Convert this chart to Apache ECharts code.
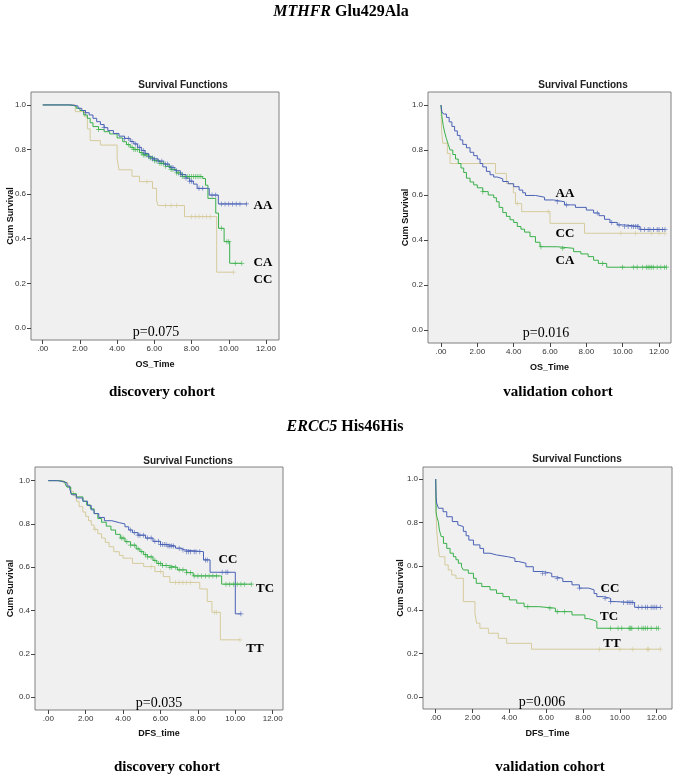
<!DOCTYPE html>
<html>
<head>
<meta charset="utf-8">
<script src="https://cdn.jsdelivr.net/npm/echarts@6/dist/echarts.min.js"></script>
<style>html,body{margin:0;padding:0;background:#fff;}#c{width:683px;height:778px;}</style>
</head>
<body>
<div id="c"></div>
<script>
// ---------- tick labels ----------
const xTicks = [0, 2, 4, 6, 8, 10, 12];
const yTicks = [0, 0.2, 0.4, 0.6, 0.8, 1.0];

// ---------- Panel A: MTHFR Glu429Ala, discovery cohort (OS) ----------
const a_AA = [[0,1],[1.6,0.995],[1.9,0.985],[2.1,0.975],[2.3,0.965],[2.5,0.955],[2.7,0.94],[2.9,0.925],[3.1,0.912],[3.3,0.898],[3.5,0.885],[3.8,0.872],[4.1,0.86],[4.4,0.85],[4.7,0.836],[4.9,0.825],[5.1,0.81],[5.3,0.796],[5.5,0.782],[5.7,0.768],[5.9,0.758],[6.2,0.748],[6.5,0.735],[6.8,0.72],[7.1,0.705],[7.4,0.688],[7.7,0.672],[7.9,0.658],[8.1,0.645],[8.3,0.626],[8.95,0.596],[9.44,0.556],[10.97,0.556]];
const a_AA_cens = [2.3,3.3,4.4,4.6,4.8,5.0,5.2,5.4,5.5,5.7,5.9,6.0,6.2,6.4,6.6,6.7,6.9,7.0,7.2,7.4,7.5,7.7,7.9,8.0,8.4,8.6,9.1,9.3,9.6,9.8,10.0,10.2,10.4,10.6,10.95];
const a_CA = [[0,1],[1.4,0.995],[1.8,0.985],[2.0,0.975],[2.2,0.955],[2.4,0.94],[2.55,0.92],[2.7,0.903],[3.0,0.89],[3.3,0.88],[3.6,0.87],[4.0,0.852],[4.3,0.835],[4.5,0.822],[4.7,0.81],[4.9,0.8],[5.2,0.786],[5.4,0.776],[5.7,0.762],[6.0,0.75],[6.3,0.738],[6.6,0.725],[6.9,0.71],[7.2,0.695],[7.5,0.679],[8.6,0.67],[8.75,0.64],[8.88,0.581],[9.3,0.515],[9.45,0.447],[9.75,0.387],[10.05,0.29],[10.7,0.29]];
const a_CA_cens = [3.0,4.6,4.8,4.9,5.0,5.1,5.3,5.4,5.5,5.6,5.8,5.9,6.0,6.1,6.3,6.4,6.5,6.6,6.8,6.9,7.0,7.2,7.3,7.5,7.6,7.8,7.9,8.0,8.1,8.2,8.3,8.4,8.5,9.6,9.9,10.0,10.35,10.7];
const a_CC = [[0,1],[1.75,0.97],[2.25,0.947],[2.4,0.893],[2.55,0.84],[3.1,0.82],[4.0,0.76],[4.1,0.709],[4.8,0.68],[5.2,0.656],[5.9,0.626],[6.12,0.57],[6.2,0.549],[7.62,0.499],[9.35,0.25],[10.25,0.25]];
const a_CC_cens = [5.6,6.6,6.9,7.2,8.0,8.2,8.4,8.6,8.8,9.0,10.25];

// ---------- Panel B: MTHFR Glu429Ala, validation cohort (OS) ----------
const b_AA = [[0,1],[0.05,0.97],[0.15,0.96],[0.3,0.945],[0.45,0.925],[0.6,0.905],[0.75,0.885],[0.9,0.865],[1.05,0.845],[1.2,0.825],[1.4,0.81],[1.6,0.79],[1.8,0.775],[2.0,0.76],[2.15,0.74],[2.3,0.725],[2.5,0.705],[2.7,0.69],[2.9,0.68],[3.1,0.672],[3.4,0.66],[3.7,0.65],[4.0,0.637],[4.3,0.622],[4.5,0.61],[4.65,0.598],[5.2,0.59],[5.7,0.578],[6.2,0.57],[6.8,0.556],[7.4,0.545],[8.0,0.533],[8.4,0.52],[8.7,0.508],[9.0,0.492],[9.3,0.478],[9.7,0.467],[10.1,0.46],[10.95,0.447],[12.33,0.447]];
const b_AA_cens = [6.4,6.9,8.6,9.4,9.8,10.1,10.3,10.5,10.6,10.7,10.8,10.85,11.0,11.2,11.4,11.5,11.7,11.9,12.0,12.2,12.33];
const b_CA = [[0,1],[0.05,0.95],[0.12,0.91],[0.2,0.88],[0.3,0.85],[0.4,0.825],[0.5,0.8],[0.65,0.78],[0.8,0.76],[0.95,0.74],[1.1,0.72],[1.25,0.7],[1.4,0.675],[1.6,0.658],[1.8,0.645],[2.0,0.632],[2.3,0.615],[2.6,0.6],[2.9,0.588],[3.05,0.57],[3.2,0.545],[3.4,0.522],[3.6,0.505],[3.8,0.49],[4.0,0.478],[4.2,0.46],[4.4,0.448],[4.6,0.435],[4.9,0.415],[5.2,0.39],[5.45,0.37],[6.4,0.363],[7.3,0.348],[7.7,0.338],[8.1,0.326],[8.4,0.31],[8.66,0.296],[9.12,0.279],[12.42,0.279]];
const b_CA_cens = [2.3,5.5,6.7,8.9,10.0,10.6,10.8,11.1,11.3,11.4,11.5,11.6,11.7,11.9,12.1,12.3,12.42];
const b_CC = [[0,1],[0.03,0.89],[0.1,0.83],[0.35,0.785],[0.5,0.74],[3.0,0.696],[3.6,0.651],[3.98,0.61],[4.1,0.562],[4.44,0.526],[6.0,0.474],[7.9,0.43],[12.33,0.43]];
const b_CC_cens = [4.2,5.9,9.9,10.7,11.6,12.0,12.33];

// ---------- Panel C: ERCC5 His46His, discovery cohort (DFS) ----------
const c_CC = [[0,1],[0.5,0.995],[0.8,0.99],[1.0,0.975],[1.15,0.96],[1.25,0.935],[1.5,0.92],[1.85,0.905],[2.1,0.885],[2.3,0.865],[2.45,0.848],[2.7,0.83],[3.0,0.815],[3.4,0.806],[3.8,0.8],[4.1,0.787],[4.3,0.772],[4.5,0.76],[4.8,0.748],[5.2,0.735],[5.6,0.72],[6.0,0.705],[6.4,0.698],[6.8,0.688],[7.1,0.68],[7.3,0.672],[8.3,0.634],[8.65,0.577],[10.0,0.385],[10.3,0.385]];
const c_CC_cens = [4.4,4.6,4.8,4.9,5.1,5.3,5.5,5.7,5.9,6.0,6.1,6.2,6.3,6.4,6.5,6.6,6.7,7.0,7.2,7.4,7.5,7.6,7.8,7.9,8.1,8.4,8.5,9.3,9.5,9.6,10.3];
const c_TC = [[0,1],[0.6,0.995],[0.9,0.985],[1.0,0.97],[1.2,0.94],[1.5,0.925],[1.85,0.905],[2.05,0.888],[2.25,0.87],[2.45,0.848],[2.65,0.825],[2.85,0.808],[3.1,0.79],[3.35,0.772],[3.6,0.752],[3.85,0.735],[4.1,0.718],[4.4,0.702],[4.7,0.685],[4.9,0.672],[5.1,0.658],[5.3,0.648],[5.6,0.632],[5.8,0.618],[6.1,0.608],[6.4,0.6],[6.9,0.588],[7.4,0.575],[7.75,0.56],[9.27,0.522],[10.86,0.522]];
const c_TC_cens = [3.9,4.0,4.2,4.4,4.6,4.8,5.0,5.2,5.3,5.5,5.7,5.9,6.0,6.1,6.3,6.5,6.6,6.8,7.0,7.2,7.4,7.6,7.8,8.0,8.2,8.4,8.6,8.8,9.0,9.5,9.7,9.9,10.1,10.3,10.5,10.86];
const c_TT = [[0,1],[0.8,0.99],[1.05,0.97],[1.2,0.95],[1.35,0.93],[1.5,0.905],[1.65,0.88],[1.85,0.855],[2.0,0.835],[2.15,0.815],[2.3,0.795],[2.45,0.775],[2.65,0.755],[2.85,0.735],[3.05,0.715],[3.25,0.695],[3.5,0.672],[3.8,0.655],[4.0,0.642],[4.5,0.618],[5.1,0.603],[5.7,0.58],[6.15,0.557],[6.5,0.53],[8.1,0.5],[8.5,0.442],[8.75,0.392],[9.2,0.265],[10.25,0.265]];
const c_TT_cens = [2.5,5.5,6.0,6.8,7.0,7.2,7.4,7.6,8.9,9.0,10.25];

// ---------- Panel D: ERCC5 His46His, validation cohort (DFS) ----------
const d_CC = [[0,1],[0.02,0.92],[0.05,0.89],[0.15,0.866],[0.4,0.85],[0.6,0.827],[0.9,0.805],[1.2,0.79],[1.3,0.782],[1.5,0.76],[1.65,0.74],[1.8,0.72],[2.05,0.698],[2.4,0.682],[2.6,0.66],[2.95,0.652],[3.3,0.644],[3.9,0.637],[4.3,0.622],[4.5,0.614],[4.9,0.598],[5.3,0.576],[5.8,0.568],[6.3,0.552],[6.5,0.545],[6.9,0.53],[7.4,0.515],[7.8,0.5],[8.3,0.492],[8.6,0.475],[8.75,0.461],[9.1,0.453],[9.5,0.438],[9.8,0.434],[10.8,0.412],[12.2,0.412]];
const d_CC_cens = [5.8,5.95,6.6,7.8,9.2,9.5,10.2,10.4,10.5,10.6,10.7,11.0,11.2,11.4,11.5,11.7,11.8,11.9,12.0,12.2];
const d_TC = [[0,1],[0.02,0.85],[0.06,0.827],[0.14,0.805],[0.2,0.766],[0.3,0.736],[0.42,0.705],[0.6,0.682],[0.78,0.66],[0.96,0.644],[1.1,0.63],[1.23,0.614],[1.4,0.598],[1.5,0.583],[1.77,0.568],[2.05,0.545],[2.2,0.522],[2.5,0.507],[2.95,0.492],[3.3,0.476],[3.65,0.461],[4.0,0.446],[4.4,0.431],[4.8,0.415],[5.6,0.408],[6.5,0.392],[7.4,0.377],[8.1,0.36],[8.3,0.354],[8.55,0.347],[8.75,0.316],[12.1,0.316]];
const d_TC_cens = [5.0,6.2,6.6,7.0,9.5,9.9,10.1,10.5,10.55,10.6,10.65,11.0,11.2,11.3,11.4,11.5,11.7,12.0,12.1];
const d_TT = [[0,1],[0.02,0.85],[0.05,0.77],[0.12,0.7],[0.2,0.644],[0.5,0.606],[0.68,0.583],[0.87,0.56],[1.1,0.545],[1.5,0.438],[2.13,0.385],[2.22,0.339],[2.4,0.316],[2.86,0.293],[3.4,0.27],[3.85,0.247],[5.2,0.22],[12.2,0.22]];
const d_TT_cens = [8.9,10.0,10.7,11.5,11.55,12.2];

// ---------- texts ----------
const headings = ['MTHFR', 'Glu429Ala', 'ERCC5', 'His46His'];
const panelTitle = 'Survival Functions';
const xNames = ['OS_Time', 'OS_Time', 'DFS_time', 'DFS_Time'];
const yName = 'Cum Survival';
const pValues = ['p=0.075', 'p=0.016', 'p=0.035', 'p=0.006'];
const cohorts = ['discovery cohort', 'validation cohort', 'discovery cohort', 'validation cohort'];
const curveNames = [['AA','CA','CC'], ['AA','CA','CC'], ['CC','TC','TT'], ['CC','TC','TT']];

// ---------- layout (styles / positions) ----------
const COLORS = ['#4a62b6', '#38b04a', '#d5cb9c'];
const panels = [
  { grid: {left: 31, top: 92, width: 248, height: 248}, x: [-0.63, 12.70], y: [-0.054, 1.058],
    curves: [[a_AA, a_AA_cens], [a_CA, a_CA_cens], [a_CC, a_CC_cens]],
    labelPos: [[263,206],[263,263],[263,280]], pPos: [156,332], tPos: [183,85], cPos: [162,392], yGap: 16, xGap: 20 },
  { grid: {left: 428, top: 92, width: 243, height: 251}, x: [-0.715, 12.66], y: [-0.058, 1.058],
    curves: [[b_AA, b_AA_cens], [b_CA, b_CA_cens], [b_CC, b_CC_cens]],
    labelPos: [[565,194],[565,261],[565,234]], pPos: [546,333], tPos: [583,85], cPos: [558,392], yGap: 18, xGap: 20 },
  { grid: {left: 35, top: 467, width: 248, height: 243}, x: [-0.71, 12.55], y: [-0.059, 1.063],
    curves: [[c_CC, c_CC_cens], [c_TC, c_TC_cens], [c_TT, c_TT_cens]],
    labelPos: [[228,560],[265,589],[255,649]], pPos: [159,703], tPos: [188,461], cPos: [167,767], yGap: 20, xGap: 19 },
  { grid: {left: 423, top: 467, width: 249, height: 242}, x: [-0.69, 12.83], y: [-0.054, 1.055],
    curves: [[d_CC, d_CC_cens], [d_TC, d_TC_cens], [d_TT, d_TT_cens]],
    labelPos: [[610,589],[609,617],[612,644]], pPos: [542,702], tPos: [577,459], cPos: [550,767], yGap: 18, xGap: 20 }
];

function survAt(curve, t) {
  let s = curve[0][1];
  for (const p of curve) { if (p[0] <= t) s = p[1]; else break; }
  return s;
}

const SANS = '"Liberation Sans", Arial, sans-serif';
const SERIF = '"Liberation Serif", "Times New Roman", serif';
const PLUS = 'path://M-0.14,-1H0.14V-0.14H1V0.14H0.14V1H-0.14V0.14H-1V-0.14H-0.14Z';

const grids = [], xAxes = [], yAxes = [], series = [], graphics = [];

function txt(text, x, y, font, fill, align) {
  graphics.push({ type: 'text', silent: true, style: {
    text: text, x: x, y: y, font: font, fill: fill || '#000',
    textAlign: align || 'center', textVerticalAlign: 'middle', align: align || 'center', verticalAlign: 'middle' } });
}

panels.forEach((p, i) => {
  grids.push(Object.assign({ show: true, backgroundColor: '#f0f0f0', borderColor: '#808080', borderWidth: 1 }, p.grid));
  xAxes.push({
    type: 'value', gridIndex: i, min: p.x[0], max: p.x[1], position: 'bottom',
    name: xNames[i], nameLocation: 'middle', nameGap: p.xGap, nameMoveOverlap: false,
    nameTextStyle: { fontFamily: SANS, fontSize: 9, fontWeight: 'bold', color: '#111' },
    axisLine: { show: false, onZero: false },
    axisTick: { show: true, inside: false, length: 4, customValues: xTicks, lineStyle: { color: '#444', width: 1 } },
    axisLabel: { customValues: xTicks, margin: 5, fontFamily: SANS, fontSize: 8, color: '#333',
      formatter: v => (v === 0 ? '.00' : v.toFixed(2)) },
    splitLine: { show: false }
  });
  yAxes.push({
    type: 'value', gridIndex: i, min: p.y[0], max: p.y[1], position: 'left',
    name: yName, nameLocation: 'middle', nameGap: p.yGap, nameRotate: 90, nameMoveOverlap: false,
    nameTextStyle: { fontFamily: SANS, fontSize: 9, fontWeight: 'bold', color: '#111' },
    axisLine: { show: false, onZero: false },
    axisTick: { show: true, inside: false, length: 4, customValues: yTicks, lineStyle: { color: '#444', width: 1 } },
    axisLabel: { customValues: yTicks, margin: 5, fontFamily: SANS, fontSize: 8, color: '#333',
      formatter: v => v.toFixed(1) },
    splitLine: { show: false }
  });
  p.curves.forEach((c, k) => {
    const color = COLORS[k];
    series.push({
      name: curveNames[i][k], type: 'line', step: 'end', xAxisIndex: i, yAxisIndex: i,
      data: c[0], showSymbol: false, symbol: 'none', lineStyle: { color: color, width: 1 },
      z: 3 + (2 - k), silent: true
    });
    series.push({
      type: 'scatter', xAxisIndex: i, yAxisIndex: i,
      data: c[1].map(t => [t, survAt(c[0], t)]),
      symbol: PLUS, symbolSize: 5, itemStyle: { color: color }, z: 4 + (2 - k), silent: true
    });
    txt(curveNames[i][k], p.labelPos[k][0], p.labelPos[k][1], 'bold 13px ' + SERIF, '#000', 'center');
  });
  txt(panelTitle, p.tPos[0], p.tPos[1], 'bold 10px ' + SANS, '#222', 'center');
  txt(pValues[i], p.pPos[0], p.pPos[1], '14px ' + SERIF, '#000', 'center');
  txt(cohorts[i], p.cPos[0], p.cPos[1], 'bold 15px ' + SERIF, '#000', 'center');
});

// headings with italic gene names
graphics.push({ type: 'text', silent: true, style: {
  text: '{i|' + headings[0] + '} {b|' + headings[1] + '}', x: 341, y: 12,
  textAlign: 'center', textVerticalAlign: 'middle', align: 'center', verticalAlign: 'middle',
  rich: { i: { font: 'italic bold 16px ' + SERIF, fill: '#000' }, b: { font: 'bold 16px ' + SERIF, fill: '#000' } },
  font: 'bold 16px ' + SERIF, fill: '#000' } });
graphics.push({ type: 'text', silent: true, style: {
  text: '{i|' + headings[2] + '} {b|' + headings[3] + '}', x: 345, y: 427,
  textAlign: 'center', textVerticalAlign: 'middle', align: 'center', verticalAlign: 'middle',
  rich: { i: { font: 'italic bold 16px ' + SERIF, fill: '#000' }, b: { font: 'bold 16px ' + SERIF, fill: '#000' } },
  font: 'bold 16px ' + SERIF, fill: '#000' } });

const chart = echarts.init(document.getElementById('c'), null, { renderer: 'canvas' });
chart.setOption({
  animation: false,
  backgroundColor: '#ffffff',
  grid: grids, xAxis: xAxes, yAxis: yAxes, series: series, graphic: graphics
});
</script>
</body>
</html>
